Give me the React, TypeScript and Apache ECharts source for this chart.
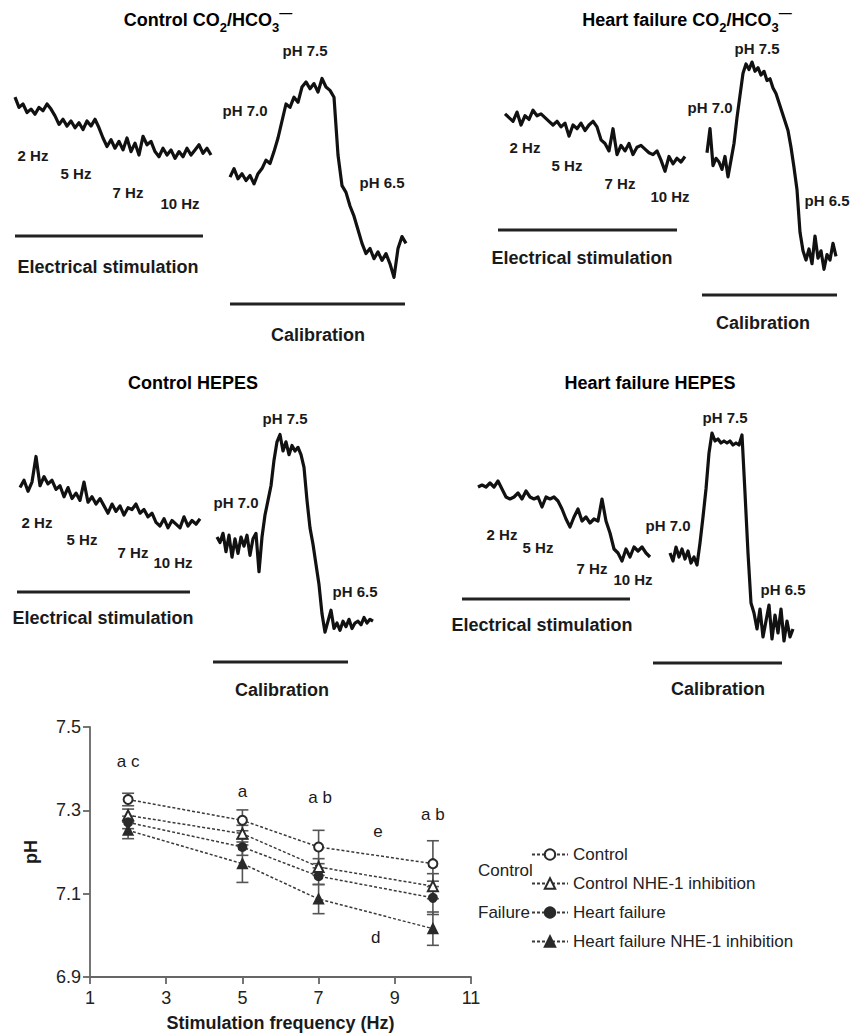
import { useEffect, useRef } from "react";
import * as echarts from "echarts";

const FONT = "'Liberation Sans', Arial, Helvetica, sans-serif";

// ---------- Summary chart data (pH vs stimulation frequency) ----------
const freqs = [2, 5, 7, 10];
const controlPH = [7.326, 7.276, 7.212, 7.172];
const controlErr = [0.015, 0.025, 0.04, 0.055];
const controlNhePH = [7.288, 7.244, 7.164, 7.118];
const controlNheErr = [0.015, 0.02, 0.02, 0.03];
const hfPH = [7.271, 7.212, 7.142, 7.09];
const hfErr = [0.015, 0.02, 0.02, 0.04];
const hfNhePH = [7.252, 7.172, 7.087, 7.016];
const hfNheErr = [0.02, 0.045, 0.035, 0.04];
const seriesNames = ["Control", "Control NHE-1 inhibition", "Heart failure", "Heart failure NHE-1 inhibition"];
const xTicks = [1, 3, 5, 7, 9, 11];
const yTicks = [6.9, 7.1, 7.3, 7.5];
const sigLetters: [number, number, string][] = [
  [2, 7.418, "a c"], [5, 7.346, "a"], [7.04, 7.33, "a b"], [10, 7.289, "a b"], [8.56, 7.25, "e"], [8.5, 6.996, "d"],
];

// ---------- Trace recordings (pH) ----------
// timing: [stimStart, stimStep, calStart, calStep] in s
const ctrlCO2Times = [5, 4, 220, 4];
const ctrlCO2Stim = [7.44, 7.38, 7.40, 7.35, 7.37, 7.34, 7.38, 7.36, 7.40, 7.37, 7.33, 7.28, 7.31, 7.27, 7.30, 7.26, 7.29, 7.25, 7.30, 7.27, 7.31, 7.26, 7.20, 7.15, 7.19, 7.14, 7.18, 7.13, 7.20, 7.12, 7.17, 7.10, 7.21, 7.16, 7.18, 7.12, 7.09, 7.14, 7.10, 7.13, 7.08, 7.12, 7.09, 7.14, 7.10, 7.13, 7.16, 7.11, 7.14, 7.10];
const ctrlCO2Cal = [6.97, 7.02, 6.96, 6.99, 6.95, 6.98, 6.93, 6.99, 7.02, 7.07, 7.05, 7.12, 7.20, 7.30, 7.40, 7.38, 7.44, 7.41, 7.50, 7.53, 7.49, 7.52, 7.47, 7.55, 7.50, 7.48, 7.44, 7.10, 6.92, 6.88, 6.80, 6.74, 6.66, 6.58, 6.52, 6.55, 6.49, 6.53, 6.48, 6.52, 6.46, 6.38, 6.55, 6.62, 6.58];

const hfCO2Times = [5, 4, 207, 3];
const hfCO2Stim = [7.26, 7.24, 7.22, 7.27, 7.20, 7.25, 7.23, 7.28, 7.25, 7.26, 7.24, 7.22, 7.20, 7.22, 7.19, 7.21, 7.14, 7.20, 7.18, 7.21, 7.17, 7.20, 7.22, 7.19, 7.12, 7.10, 7.06, 7.18, 7.04, 7.09, 7.06, 7.10, 7.04, 7.08, 7.09, 7.07, 7.05, 7.04, 7.06, 7.01, 6.95, 7.03, 6.99, 7.02, 7.00, 7.03];
const hfCO2Cal = [7.05, 7.18, 6.98, 7.02, 7.00, 6.96, 7.03, 6.92, 7.01, 7.10, 7.24, 7.36, 7.48, 7.53, 7.50, 7.54, 7.49, 7.51, 7.47, 7.49, 7.44, 7.45, 7.40, 7.37, 7.32, 7.27, 7.22, 7.17, 7.08, 6.97, 6.85, 6.62, 6.52, 6.47, 6.53, 6.45, 6.60, 6.48, 6.52, 6.42, 6.50, 6.47, 6.56, 6.49];

const ctrlHepesTimes = [5, 4, 202, 3];
const ctrlHepesStim = [7.27, 7.31, 7.25, 7.30, 7.44, 7.28, 7.33, 7.29, 7.31, 7.26, 7.28, 7.22, 7.27, 7.21, 7.24, 7.20, 7.30, 7.19, 7.22, 7.18, 7.21, 7.17, 7.13, 7.18, 7.14, 7.17, 7.12, 7.16, 7.15, 7.18, 7.13, 7.15, 7.11, 7.13, 7.08, 7.06, 7.10, 7.05, 7.09, 7.07, 7.05, 7.11, 7.06, 7.09, 7.07, 7.10];
const ctrlHepesCal = [7.00, 6.97, 7.02, 6.92, 7.01, 6.89, 6.99, 6.91, 7.00, 6.95, 7.01, 6.90, 6.99, 7.02, 6.81, 7.00, 7.12, 7.20, 7.28, 7.42, 7.52, 7.56, 7.47, 7.52, 7.45, 7.50, 7.47, 7.49, 7.45, 7.38, 7.20, 7.05, 6.96, 6.85, 6.74, 6.58, 6.48, 6.54, 6.60, 6.50, 6.53, 6.49, 6.54, 6.51, 6.55, 6.50, 6.53, 6.54, 6.52, 6.56, 6.53, 6.55, 6.54];

const hfHepesTimes = [8, 4, 200, 3];
const hfHepesStim = [7.33, 7.34, 7.33, 7.35, 7.33, 7.36, 7.32, 7.28, 7.27, 7.28, 7.30, 7.27, 7.31, 7.28, 7.27, 7.28, 7.23, 7.28, 7.27, 7.28, 7.26, 7.22, 7.17, 7.13, 7.18, 7.22, 7.16, 7.18, 7.15, 7.17, 7.16, 7.27, 7.16, 7.10, 7.02, 7.00, 6.96, 7.02, 6.98, 7.03, 7.01, 7.03, 7.00, 6.98];
const hfHepesCal = [7.00, 6.96, 7.03, 6.98, 7.02, 6.97, 7.01, 6.95, 6.98, 6.94, 7.05, 7.18, 7.32, 7.50, 7.60, 7.56, 7.57, 7.55, 7.56, 7.55, 7.56, 7.54, 7.55, 7.54, 7.59, 7.30, 7.00, 6.75, 6.70, 6.62, 6.72, 6.58, 6.66, 6.74, 6.57, 6.69, 6.60, 6.72, 6.56, 6.66, 6.58, 6.62];

// ---------- Layout ----------
const TXT = "#1a1a1a";
const panels = [
  {
    stim: ctrlCO2Stim, cal: ctrlCO2Cal, t: ctrlCO2Times,
    grid: { left: 10, top: 50, width: 400, height: 240 }, p7: 172, k: 170,
    title: "{m|Control CO}{s|2}{m|/HCO}{s|3}{p|\u2014}", titlePos: [208, 20],
    labels: [["2 Hz", 33, 155], ["5 Hz", 76, 173], ["7 Hz", 128, 192], ["10 Hz", 180, 203], ["pH 7.0", 245, 110], ["pH 7.5", 305, 50], ["pH 6.5", 382, 182]],
    stimBar: [15, 203, 236], calBar: [230, 405, 304], stimText: [108, 267], calText: [318, 335],
  },
  {
    stim: hfCO2Stim, cal: hfCO2Cal, t: hfCO2Times,
    grid: { left: 500, top: 40, width: 345, height: 240 }, p7: 162, k: 185,
    title: "{m|Heart failure CO}{s|2}{m|/HCO}{s|3}{p|\u2014}", titlePos: [687, 20],
    labels: [["2 Hz", 525, 147], ["5 Hz", 567, 165], ["7 Hz", 620, 183], ["10 Hz", 670, 196], ["pH 7.0", 710, 107], ["pH 7.5", 757, 48], ["pH 6.5", 827, 200]],
    stimBar: [498, 677, 230], calBar: [702, 837, 295], stimText: [582, 258], calText: [763, 323],
  },
  {
    stim: ctrlHepesStim, cal: ctrlHepesCal, t: ctrlHepesTimes,
    grid: { left: 15, top: 400, width: 365, height: 250 }, p7: 537, k: 183,
    title: "{m|Control HEPES}", titlePos: [193, 383],
    labels: [["2 Hz", 37, 522], ["5 Hz", 82, 539], ["7 Hz", 133, 552], ["10 Hz", 173, 562], ["pH 7.0", 236, 502], ["pH 7.5", 285, 418], ["pH 6.5", 355, 591]],
    stimBar: [17, 190, 592], calBar: [213, 348, 662], stimText: [103, 618], calText: [282, 690],
  },
  {
    stim: hfHepesStim, cal: hfHepesCal, t: hfHepesTimes,
    grid: { left: 470, top: 400, width: 330, height: 260 }, p7: 553, k: 200,
    title: "{m|Heart failure HEPES}", titlePos: [650, 383],
    labels: [["2 Hz", 502, 534], ["5 Hz", 538, 547], ["7 Hz", 592, 568], ["10 Hz", 633, 579], ["pH 7.0", 668, 525], ["pH 7.5", 725, 417], ["pH 6.5", 783, 589]],
    stimBar: [462, 630, 599], calBar: [653, 782, 663], stimText: [542, 625], calText: [718, 689],
  },
];

const titleRich = {
  m: { fontSize: 18, fontWeight: "bold", fontFamily: FONT, color: TXT, lineHeight: 28, verticalAlign: "middle" },
  s: { fontSize: 13, fontWeight: "bold", fontFamily: FONT, color: TXT, lineHeight: 13, verticalAlign: "bottom" },
  p: { fontSize: 13, fontWeight: "bold", fontFamily: FONT, color: TXT, lineHeight: 13, verticalAlign: "top" },
};

function text(x: number, y: number, s: string, size: number, bold: boolean, align = "center", color = TXT) {
  return {
    type: "text", x, y, silent: true,
    style: { text: s, fontSize: size, fontWeight: bold ? "bold" : "normal", fontFamily: FONT, fill: color, align, verticalAlign: "middle" },
  };
}
function hline(x1: number, x2: number, y: number) {
  return { type: "line", silent: true, shape: { x1, y1: y, x2, y2: y }, style: { stroke: "#222", lineWidth: 3 } };
}

export default function App() {
  const ref = useRef<HTMLDivElement>(null);
  useEffect(() => {
    if (!ref.current) return;
    const chart = echarts.init(ref.current, null, { renderer: "svg" });

    const grids: any[] = [];
    const xAxes: any[] = [];
    const yAxes: any[] = [];
    const series: any[] = [];
    const graphics: any[] = [];

    panels.forEach((p, i) => {
      grids.push({ ...p.grid });
      xAxes.push({ gridIndex: i, type: "value", min: 0, max: p.grid.width, show: false });
      const ymax = 7 + (p.p7 - p.grid.top) / p.k;
      const ymin = 7 - (p.grid.top + p.grid.height - p.p7) / p.k;
      yAxes.push({ gridIndex: i, type: "value", min: ymin, max: ymax, show: false });
      const [s0, ds, c0, dc] = p.t;
      const ls = { color: "#111", width: 3.2, join: "round" };
      series.push({
        type: "line", xAxisIndex: i, yAxisIndex: i, silent: true, symbol: "none", clip: false,
        data: p.stim.map((v, j) => [s0 + j * ds, v]), lineStyle: ls,
      });
      series.push({
        type: "line", xAxisIndex: i, yAxisIndex: i, silent: true, symbol: "none", clip: false,
        data: p.cal.map((v, j) => [c0 + j * dc, v]), lineStyle: ls,
      });
      graphics.push({
        type: "text", x: p.titlePos[0], y: p.titlePos[1], silent: true,
        style: { text: p.title, rich: titleRich, align: "center", verticalAlign: "middle", fontFamily: FONT },
      });
      p.labels.forEach((l: any) => graphics.push(text(l[1], l[2], l[0], 15, true)));
      graphics.push(hline(p.stimBar[0], p.stimBar[1], p.stimBar[2]));
      graphics.push(hline(p.calBar[0], p.calBar[1], p.calBar[2]));
      graphics.push(text(p.stimText[0], p.stimText[1], "Electrical stimulation", 18, true));
      graphics.push(text(p.calText[0], p.calText[1], "Calibration", 18, true));
    });

    // summary chart
    const gi = 4;
    grids.push({ left: 90, top: 727, width: 381, height: 250 });
    const axisCol = "#666";
    xAxes.push({
      gridIndex: gi, type: "value", min: 1, max: 11,
      name: "Stimulation frequency (Hz)", nameLocation: "middle", nameGap: 37,
      nameTextStyle: { fontSize: 18, fontWeight: "bold", fontFamily: FONT, color: TXT },
      axisLine: { show: true, lineStyle: { color: axisCol, width: 1.8 } },
      axisTick: { show: true, length: 7, customValues: xTicks, lineStyle: { color: axisCol, width: 1.8 } },
      axisLabel: { customValues: xTicks, fontSize: 18, fontFamily: FONT, color: "#222", margin: 12 },
      splitLine: { show: false },
    });
    yAxes.push({
      gridIndex: gi, type: "value", min: 6.9, max: 7.5,
      name: "pH", nameLocation: "middle", nameGap: 50, nameRotate: 90,
      nameTextStyle: { fontSize: 18, fontWeight: "bold", fontFamily: FONT, color: TXT },
      axisLine: { show: true, lineStyle: { color: axisCol, width: 1.8 } },
      axisTick: { show: true, length: 7, customValues: yTicks, lineStyle: { color: axisCol, width: 1.8 } },
      axisLabel: { customValues: yTicks, fontSize: 18, fontFamily: FONT, color: "#222", margin: 9, formatter: (v: number) => v.toFixed(1) },
      splitLine: { show: false },
    });

    const groups = [
      { ph: controlPH, err: controlErr, symbol: "emptyCircle", size: 9 },
      { ph: controlNhePH, err: controlNheErr, symbol: "emptyTriangle", size: 10 },
      { ph: hfPH, err: hfErr, symbol: "circle", size: 8 },
      { ph: hfNhePH, err: hfNheErr, symbol: "triangle", size: 9 },
    ];
    groups.forEach((g, i) => {
      series.push({
        type: "custom", xAxisIndex: gi, yAxisIndex: gi, silent: true, z: 1,
        data: freqs.map((f, j) => [f, g.ph[j] - g.err[j], g.ph[j] + g.err[j]]),
        encode: { x: 0, y: [1, 2] },
        renderItem: (_p: any, api: any) => {
          const lo = api.coord([api.value(0), api.value(1)]);
          const hi = api.coord([api.value(0), api.value(2)]);
          const w = 6;
          const style = { stroke: "#555", lineWidth: 1.6, fill: "none" };
          return {
            type: "group",
            children: [
              { type: "line", shape: { x1: lo[0], y1: lo[1], x2: hi[0], y2: hi[1] }, style },
              { type: "line", shape: { x1: lo[0] - w, y1: lo[1], x2: lo[0] + w, y2: lo[1] }, style },
              { type: "line", shape: { x1: hi[0] - w, y1: hi[1], x2: hi[0] + w, y2: hi[1] }, style },
            ],
          };
        },
      });
      series.push({
        type: "line", name: seriesNames[i], xAxisIndex: gi, yAxisIndex: gi, z: 3,
        data: freqs.map((f, j) => [f, g.ph[j]]),
        symbol: g.symbol, symbolSize: g.size, showSymbol: true,
        itemStyle: { color: "#2a2a2a", borderColor: "#2a2a2a", borderWidth: 2 },
        lineStyle: { color: "#3a3a3a", width: 1.5, type: [3, 2] },
      });
    });
    series.push({
      type: "scatter", xAxisIndex: gi, yAxisIndex: gi, silent: true, symbolSize: 1, clip: false,
      itemStyle: { opacity: 0 },
      data: sigLetters.map((s) => ({ value: [s[0], s[1]], name: s[2] })),
      label: { show: true, position: "inside", opacity: 1, formatter: (p: any) => p.name, fontSize: 17, fontFamily: FONT, color: "#1a1a1a", textBorderWidth: 0 },
    });
    graphics.push(text(478, 870, "Control", 17, false, "left", "#222"));
    graphics.push(text(478, 912, "Failure", 17, false, "left", "#222"));

    chart.setOption({
      animation: false,
      backgroundColor: "#fff",
      grid: grids,
      xAxis: xAxes,
      yAxis: yAxes,
      series,
      graphic: graphics,
      legend: {
        data: seriesNames, orient: "vertical", left: 526, top: 841,
        itemWidth: 36, itemHeight: 13, itemGap: 12,
        textStyle: { fontSize: 17, fontFamily: FONT, color: "#222" },
        selectedMode: false,
      },
    });
    return () => chart.dispose();
  }, []);
  return <div ref={ref} style={{ position: "absolute", left: 0, top: 0, width: 853, height: 1034 }} />;
}
